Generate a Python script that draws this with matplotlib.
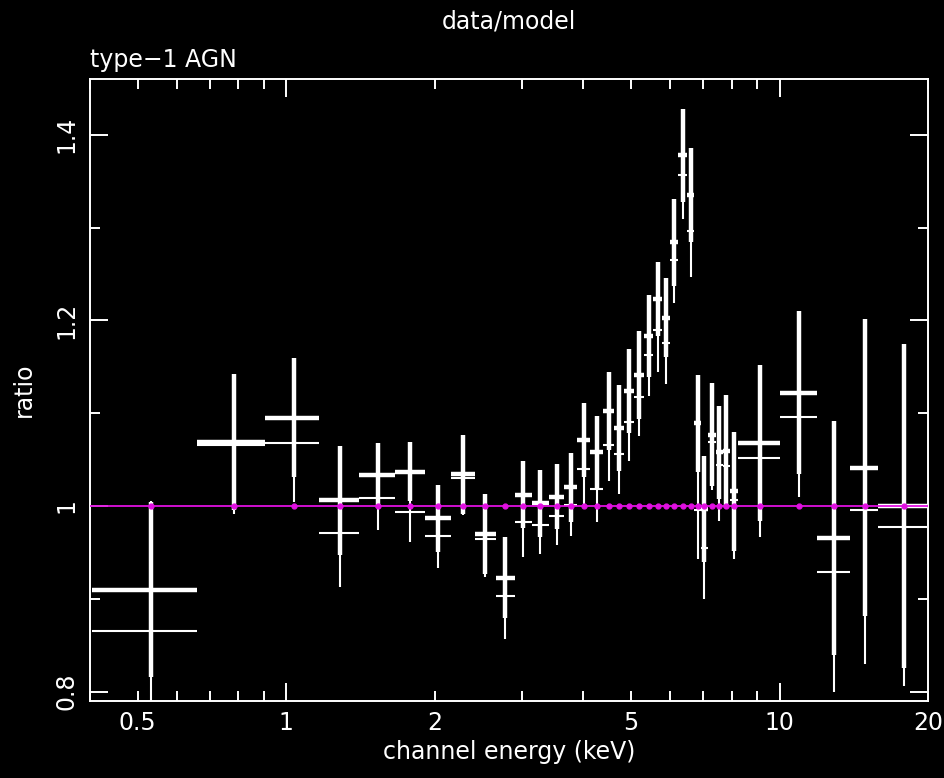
import numpy as np
import matplotlib
matplotlib.use('Agg')
import matplotlib.pyplot as plt
from matplotlib.ticker import FixedLocator, FuncFormatter, NullFormatter

#------------------------------------------------------------------
# data: channel bins (keV) and data/model ratios for both spectra
#------------------------------------------------------------------

edges = np.array([0.404, 0.658, 0.907, 1.166, 1.404, 1.661, 1.909, 2.154, 2.409, 2.657,
                  2.901, 3.141, 3.400, 3.662, 3.890, 4.132, 4.389, 4.619, 4.840, 5.071,
                  5.312, 5.539, 5.776, 5.995, 6.222, 6.488, 6.704, 6.925, 7.154, 7.426,
                  7.667, 7.925, 8.226, 10.0, 11.88, 13.91, 15.85, 19.91])

# spectrum 1 (thick marks)
ratio_1 = [0.910, 1.069, 1.095, 1.006, 1.033, 1.037, 0.987, 1.034, 0.970, 0.923,
           1.012, 1.003, 1.010, 1.020, 1.071, 1.058, 1.102, 1.084, 1.124, 1.141,
           1.183, 1.223, 1.203, 1.284, 1.378, 1.335, 1.089, 0.997, 1.077, 1.058,
           1.059, 1.016, 1.068, 1.122, 0.966, 1.041, 1.000]
err_1 = [0.094, 0.073, 0.064, 0.059, 0.035, 0.032, 0.036, 0.043, 0.043, 0.044,
         0.036, 0.036, 0.035, 0.037, 0.040, 0.039, 0.042, 0.046, 0.045, 0.047,
         0.044, 0.040, 0.043, 0.047, 0.050, 0.051, 0.052, 0.057, 0.055, 0.050,
         0.061, 0.064, 0.084, 0.088, 0.126, 0.160, 0.174]

# spectrum 2 (thin marks)
ratio_2 = [0.865, 1.066, 1.068, 0.971, 1.009, 0.994, 0.968, 1.030, 0.965, 0.903,
           0.983, 0.980, 0.989, 1.001, 1.040, 1.018, 1.066, 1.056, 1.090, 1.117,
           1.163, 1.190, 1.176, 1.265, 1.357, 1.296, 0.996, 0.955, 1.069, 1.044,
           1.043, 1.007, 1.052, 1.096, 0.929, 0.996, 0.977]
err_2 = [0.140, 0.075, 0.064, 0.058, 0.035, 0.033, 0.035, 0.040, 0.041, 0.046,
         0.038, 0.032, 0.031, 0.033, 0.038, 0.035, 0.039, 0.043, 0.042, 0.042,
         0.045, 0.046, 0.045, 0.046, 0.048, 0.049, 0.053, 0.055, 0.052, 0.060,
         0.046, 0.064, 0.085, 0.086, 0.129, 0.166, 0.171]

model_ratio = 1.0

xtick_labels = [0.5, 1, 2, 5, 10, 20]

#------------------------------------------------------------------
# settings
#------------------------------------------------------------------

fg = 'white'
model_col = '#e010e0'
font_size = 17

plt.rcParams['font.family'] = 'DejaVu Sans'

e_lo = edges[:-1]
e_hi = edges[1:]
e_mid = 0.5 * (e_lo + e_hi)
xerr = [e_mid - e_lo, e_hi - e_mid]

#------------------------------------------------------------------
# plot
#------------------------------------------------------------------

f = plt.figure(figsize=(9.44, 7.78), dpi=100, facecolor='black')
ax = f.add_axes([0.0953, 0.099, 0.888, 0.7995], facecolor='black')

ax.errorbar(e_mid, ratio_2, xerr=xerr, yerr=err_2, fmt='none',
            ecolor=fg, elinewidth=1.5, capsize=0, zorder=2)
ax.errorbar(e_mid, ratio_1, xerr=xerr, yerr=err_1, fmt='none',
            ecolor=fg, elinewidth=3.2, capsize=0, zorder=3)

# model line and model points
ax.axhline(model_ratio, color=model_col, lw=1.3, zorder=4)
ax.plot(e_mid, np.full(len(e_mid), model_ratio), ls='none', marker='o',
        ms=3.5, color=model_col, zorder=5)

ax.set_xscale('log')
ax.set_xlim(0.4, 20)
ax.set_ylim(0.79, 1.46)

# log axis: long ticks at decades, short ticks elsewhere
minor = [0.4, 0.5, 0.6, 0.7, 0.8, 0.9, 2, 3, 4, 5, 6, 7, 8, 9, 20]
ax.xaxis.set_major_locator(FixedLocator([1, 10]))
ax.xaxis.set_minor_locator(FixedLocator(minor))
ax.xaxis.set_major_formatter(FuncFormatter(lambda v, p: '%g' % v))
ax.xaxis.set_minor_formatter(FuncFormatter(
    lambda v, p: '%g' % v if any(abs(v - t) < 1e-6 for t in xtick_labels) else ''))

ax.yaxis.set_major_locator(FixedLocator([0.8, 1.0, 1.2, 1.4]))
ax.yaxis.set_minor_locator(FixedLocator([0.9, 1.1, 1.3]))
ax.yaxis.set_major_formatter(FuncFormatter(lambda v, p: '%g' % v))

ax.tick_params(which='both', direction='in', top=True, right=True, colors=fg,
               labelsize=font_size, width=1.4)
ax.tick_params(which='major', length=13)
ax.tick_params(which='minor', length=7)
ax.tick_params(axis='x', which='both', pad=7)
ax.tick_params(axis='y', which='both', pad=8)
for lab in ax.get_yticklabels():
    lab.set_rotation(90)
    lab.set_va('center')

for s in ax.spines.values():
    s.set_color(fg)
    s.set_linewidth(1.4)

#labels
ax.set_xlabel('channel energy (keV)', color=fg, fontsize=font_size, labelpad=4)
ax.set_ylabel('ratio', color=fg, fontsize=font_size, labelpad=14)
f.text(0.539, 0.972, 'data/model', color=fg, fontsize=font_size, ha='center', va='center')
f.text(0.0953, 0.923, 'type\u22121 AGN', color=fg, fontsize=font_size, ha='left', va='center')

f.savefig('out.png', dpi=100, facecolor='black')
